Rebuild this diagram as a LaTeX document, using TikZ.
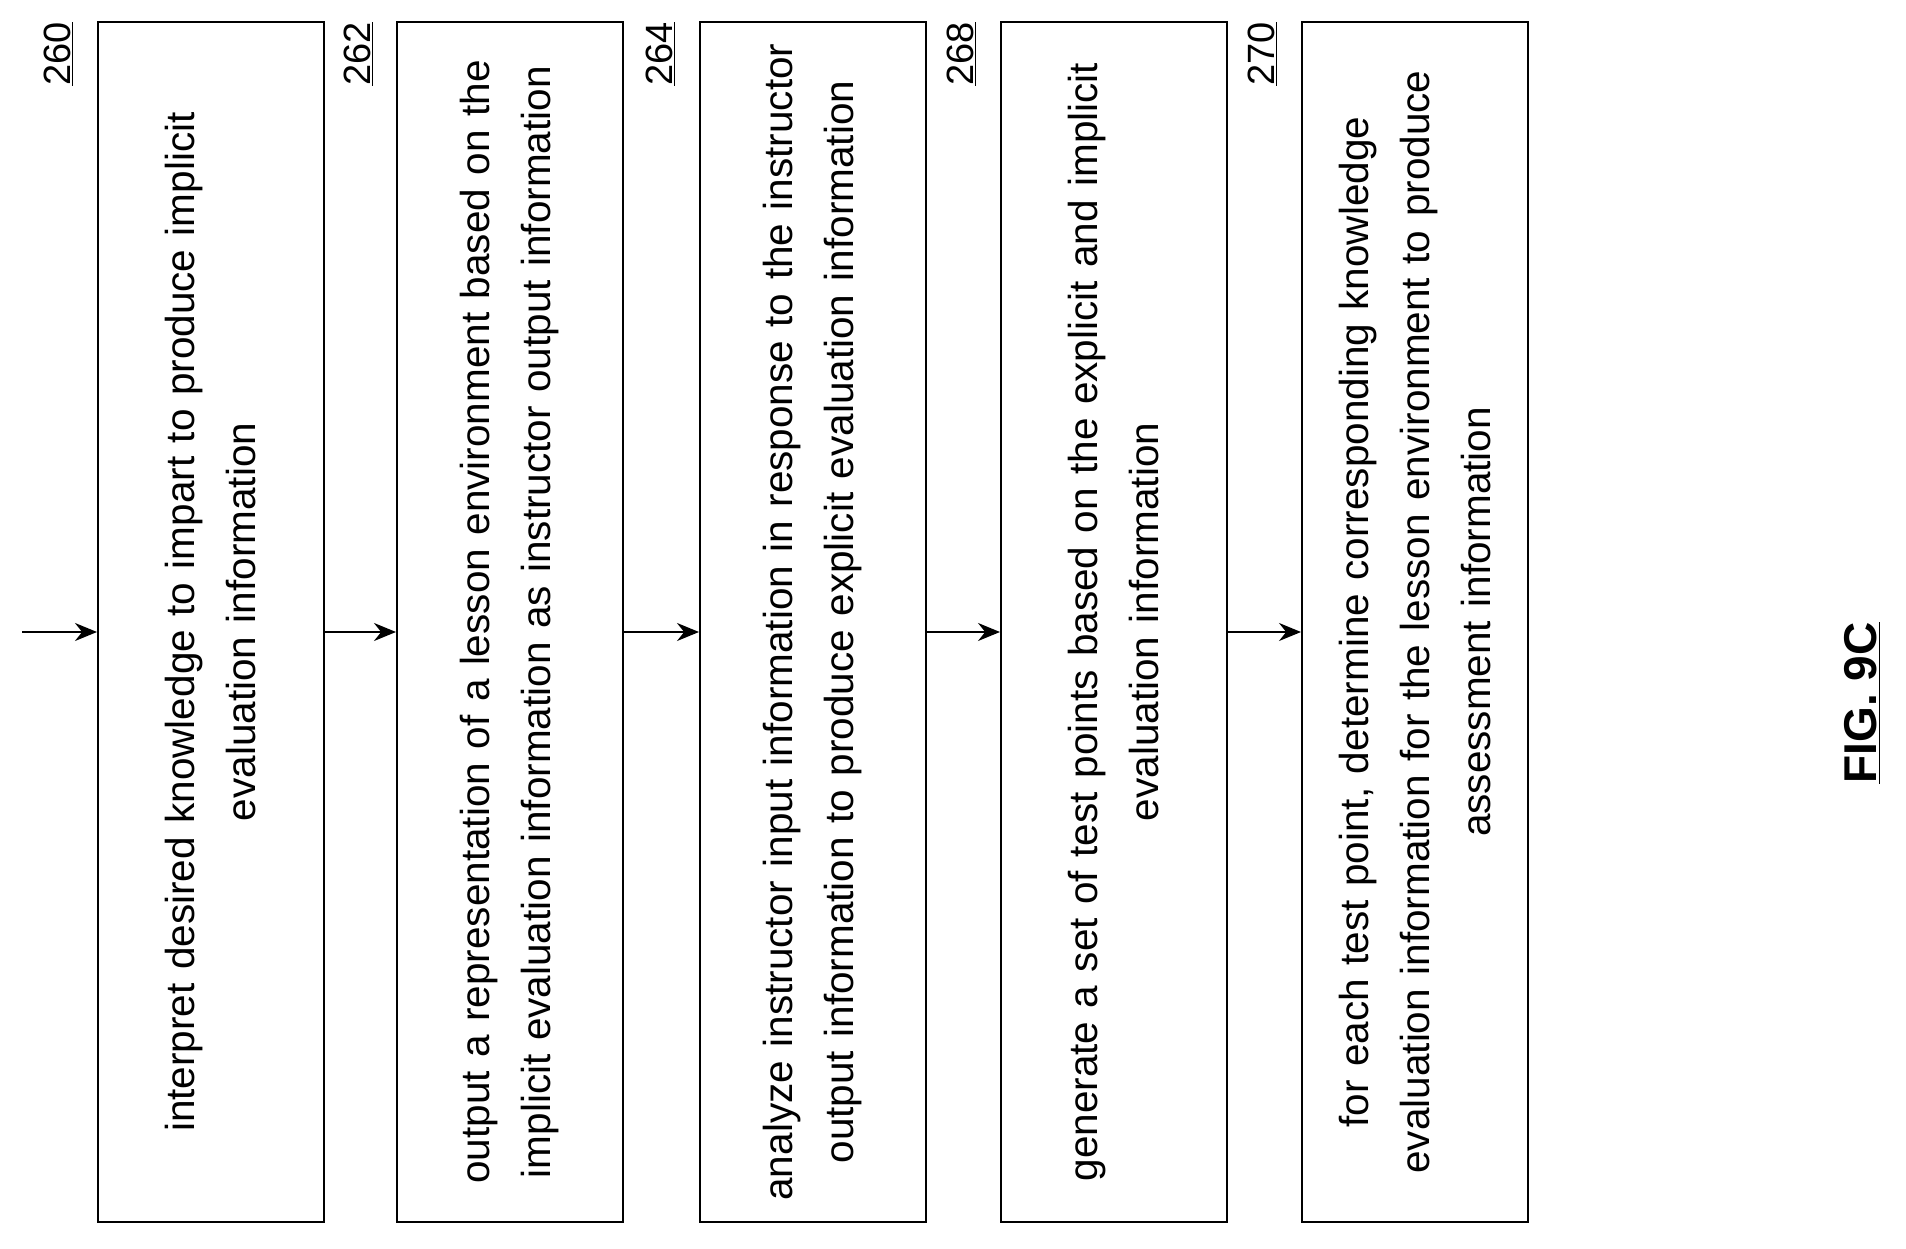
\documentclass[tikz,border=0pt]{standalone}
\usepackage{fontspec}
\setmainfont{Liberation Sans}
\usetikzlibrary{arrows.meta}
\begin{document}
\begin{tikzpicture}[x=1pt,y=-1pt,
  stepbox/.style={draw,line width=2pt,rotate=90,minimum width=1200pt,minimum height=226pt,
    text width=1190pt,align=center,inner sep=0pt,font=\fontsize{40.5}{61}\selectfont},
  reflabel/.style={rotate=90,font=\fontsize{38}{38}\selectfont,anchor=east,inner sep=2pt},
  conn/.style={line width=2pt,-{Stealth[length=22pt,width=18pt]}}]
\useasboundingbox (0,0) rectangle (1906,1249);
\node[stepbox] (b1) at (211,622) {interpret desired knowledge to impart to produce implicit\\evaluation information};
\node[stepbox] (b2) at (510,622) {output a representation of a lesson environment based on the\\implicit evaluation information as instructor output information};
\node[stepbox] (b3) at (813,622) {analyze instructor input information in response to the instructor\\output information to produce explicit evaluation information};
\node[stepbox] (b4) at (1114,622) {generate a set of test points based on the explicit and implicit\\evaluation information};
\node[stepbox] (b5) at (1415,622) {for each test point, determine corresponding knowledge\\evaluation information for the lesson environment to produce\\assessment information};
\foreach \n/\x/\t in {l1/58/260,l2/358/262,l3/660/264,l4/961/268,l5/1262/270}
  \node[reflabel] (\n) at (\x,20) {\underline{\t}};
\coordinate (start) at (22,632);
\draw[conn] (start) -- (b1.north |- start);
\draw[conn] (b1.south |- start) -- (b2.north |- start);
\draw[conn] (b2.south |- start) -- (b3.north |- start);
\draw[conn] (b3.south |- start) -- (b4.north |- start);
\draw[conn] (b4.south |- start) -- (b5.north |- start);
\node[rotate=90,font=\bfseries\fontsize{46}{46}\selectfont] (fig) at (1862,703) {\underline{FIG. 9C}};
\end{tikzpicture}
\end{document}
